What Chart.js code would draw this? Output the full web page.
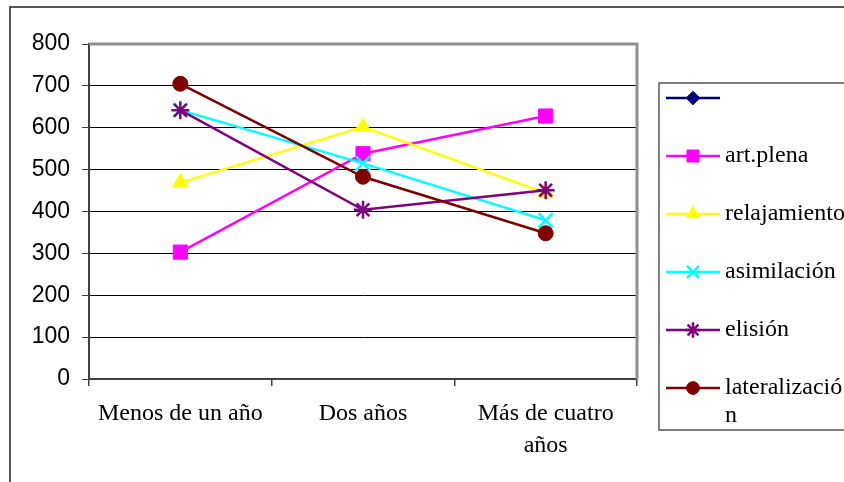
<!DOCTYPE html>
<html>
<head>
<meta charset="utf-8">
<script src="https://cdn.jsdelivr.net/npm/chart.js@4.4.0/dist/chart.umd.min.js"></script>
<style>
  html, body { margin: 0; padding: 0; background: #fff; }
  #wrap { width: 844px; height: 482px; }
</style>
</head>
<body>
<div id="wrap"><canvas id="grafico" width="844" height="482"></canvas></div>
<script>
// Datos
const categorias = ['Menos de un año', 'Dos años', ['Más de cuatro', 'años']];
const nombresSeries = ['', 'art.plena', 'relajamiento', 'asimilación', 'elisión', 'lateralización'];
const serieVacia = [null, null, null];
const artPlena = [303, 538, 628];
const relajamiento = [469, 602, 444];
const asimilacion = [642, 515, 379];
const elision = [642, 404, 451];
const lateralizacion = [705, 483, 348];
const yMin = 0;
const yMax = 800;
const yPaso = 100;

const valores = [serieVacia, artPlena, relajamiento, asimilacion, elision, lateralizacion];
const colores = ['#000080', '#FF00FF', '#FFFF00', '#00FFFF', '#800080', '#800000'];
const estilos = ['rectRot', 'rect', 'triangle', 'crossRot', 'star', 'circle'];
const radios = [8, 10, 9, 10, 9, 7.5];

const SERIF = "'Liberation Serif', 'Times New Roman', serif";
const SANS = "'Liberation Sans', Arial, sans-serif";

// Marco exterior, borde del área de trazado y leyenda
const marcoPlugin = {
    id: 'marco',
    beforeDraw(chart) {
        const ctx = chart.ctx;
        ctx.save();
        ctx.fillStyle = '#fff';
        ctx.fillRect(0, 0, chart.width, chart.height);
        ctx.strokeStyle = '#222';
        ctx.lineWidth = 1.5;
        ctx.beginPath();
        ctx.moveTo(10, chart.height);
        ctx.lineTo(10, 7);
        ctx.lineTo(chart.width, 7);
        ctx.stroke();
        ctx.restore();
    },
    beforeDatasetsDraw(chart) {
        const { ctx, chartArea: a } = chart;
        ctx.save();
        ctx.strokeStyle = '#909090';
        ctx.lineWidth = 3;
        ctx.beginPath();
        ctx.moveTo(a.left, a.top);
        ctx.lineTo(a.right, a.top);
        ctx.lineTo(a.right, a.bottom);
        ctx.stroke();
        ctx.restore();
    },
    afterDraw(chart) {
        const ctx = chart.ctx;
        ctx.save();
        ctx.strokeStyle = '#555';
        ctx.lineWidth = 1.5;
        ctx.strokeRect(659, 83, 300, 347);

        ctx.font = '24px ' + SERIF;
        ctx.textBaseline = 'middle';
        ctx.fillStyle = '#000';
        chart.data.datasets.forEach((ds, i) => {
            const y = 98 + i * 58;
            ctx.strokeStyle = ds.borderColor;
            ctx.lineWidth = 2.5;
            ctx.beginPath();
            ctx.moveTo(666, y);
            ctx.lineTo(720, y);
            ctx.stroke();

            ctx.fillStyle = ds.pointBackgroundColor;
            ctx.strokeStyle = ds.pointBorderColor;
            ctx.lineWidth = ds.pointBorderWidth;
            Chart.helpers.drawPoint(ctx, {
                pointStyle: ds.pointStyle,
                radius: ds.pointRadius * 0.85,
                rotation: 0,
                borderWidth: ds.pointBorderWidth
            }, 693, y);

            // ajuste de texto por caracteres, como en el original
            ctx.fillStyle = '#000';
            const lineas = [];
            let actual = '';
            for (const c of ds.label) {
                if (ctx.measureText(actual + c).width > 124 && actual) {
                    lineas.push(actual);
                    actual = c;
                } else {
                    actual += c;
                }
            }
            if (actual) lineas.push(actual);
            lineas.forEach((l, k) => ctx.fillText(l, 725, y + k * 28));
        });
        ctx.restore();
    }
};

const datasets = valores.map((datos, i) => ({
    label: nombresSeries[i],
    data: datos,
    borderColor: colores[i],
    backgroundColor: colores[i],
    borderWidth: 2.5,
    pointStyle: estilos[i],
    pointRadius: radios[i],
    pointHoverRadius: radios[i],
    pointBackgroundColor: colores[i],
    pointBorderColor: colores[i],
    pointBorderWidth: (estilos[i] === 'crossRot' || estilos[i] === 'star') ? 2.5 : 1,
    tension: 0,
    order: valores.length - i
}));

new Chart(document.getElementById('grafico'), {
    type: 'line',
    data: { labels: categorias, datasets: datasets },
    options: {
        responsive: false,
        animation: false,
        layout: { padding: { left: 10, top: 44, right: 207, bottom: 0 } },
        plugins: {
            legend: { display: false },
            tooltip: { enabled: false }
        },
        scales: {
            x: {
                offset: true,
                afterFit(scale) { scale.height = 103; },
                grid: {
                    offset: true,
                    drawOnChartArea: false,
                    drawTicks: true,
                    tickLength: 7,
                    color: '#404040',
                    lineWidth: 1.5
                },
                border: { display: true, color: '#404040', width: 2 },
                ticks: {
                    color: '#000',
                    padding: 12,
                    maxRotation: 0,
                    autoSkip: false,
                    font: { family: SERIF, size: 24, lineHeight: 1.33 }
                }
            },
            y: {
                min: yMin,
                max: yMax,
                afterFit(scale) { scale.width = 79; },
                grid: {
                    color: '#000',
                    lineWidth: 1,
                    tickLength: 7,
                    tickColor: '#404040'
                },
                border: { display: true, color: '#404040', width: 2 },
                ticks: {
                    stepSize: yPaso,
                    color: '#000',
                    padding: 12,
                    font: { family: SANS, size: 23 }
                }
            }
        }
    },
    plugins: [marcoPlugin]
});
</script>
</body>
</html>
